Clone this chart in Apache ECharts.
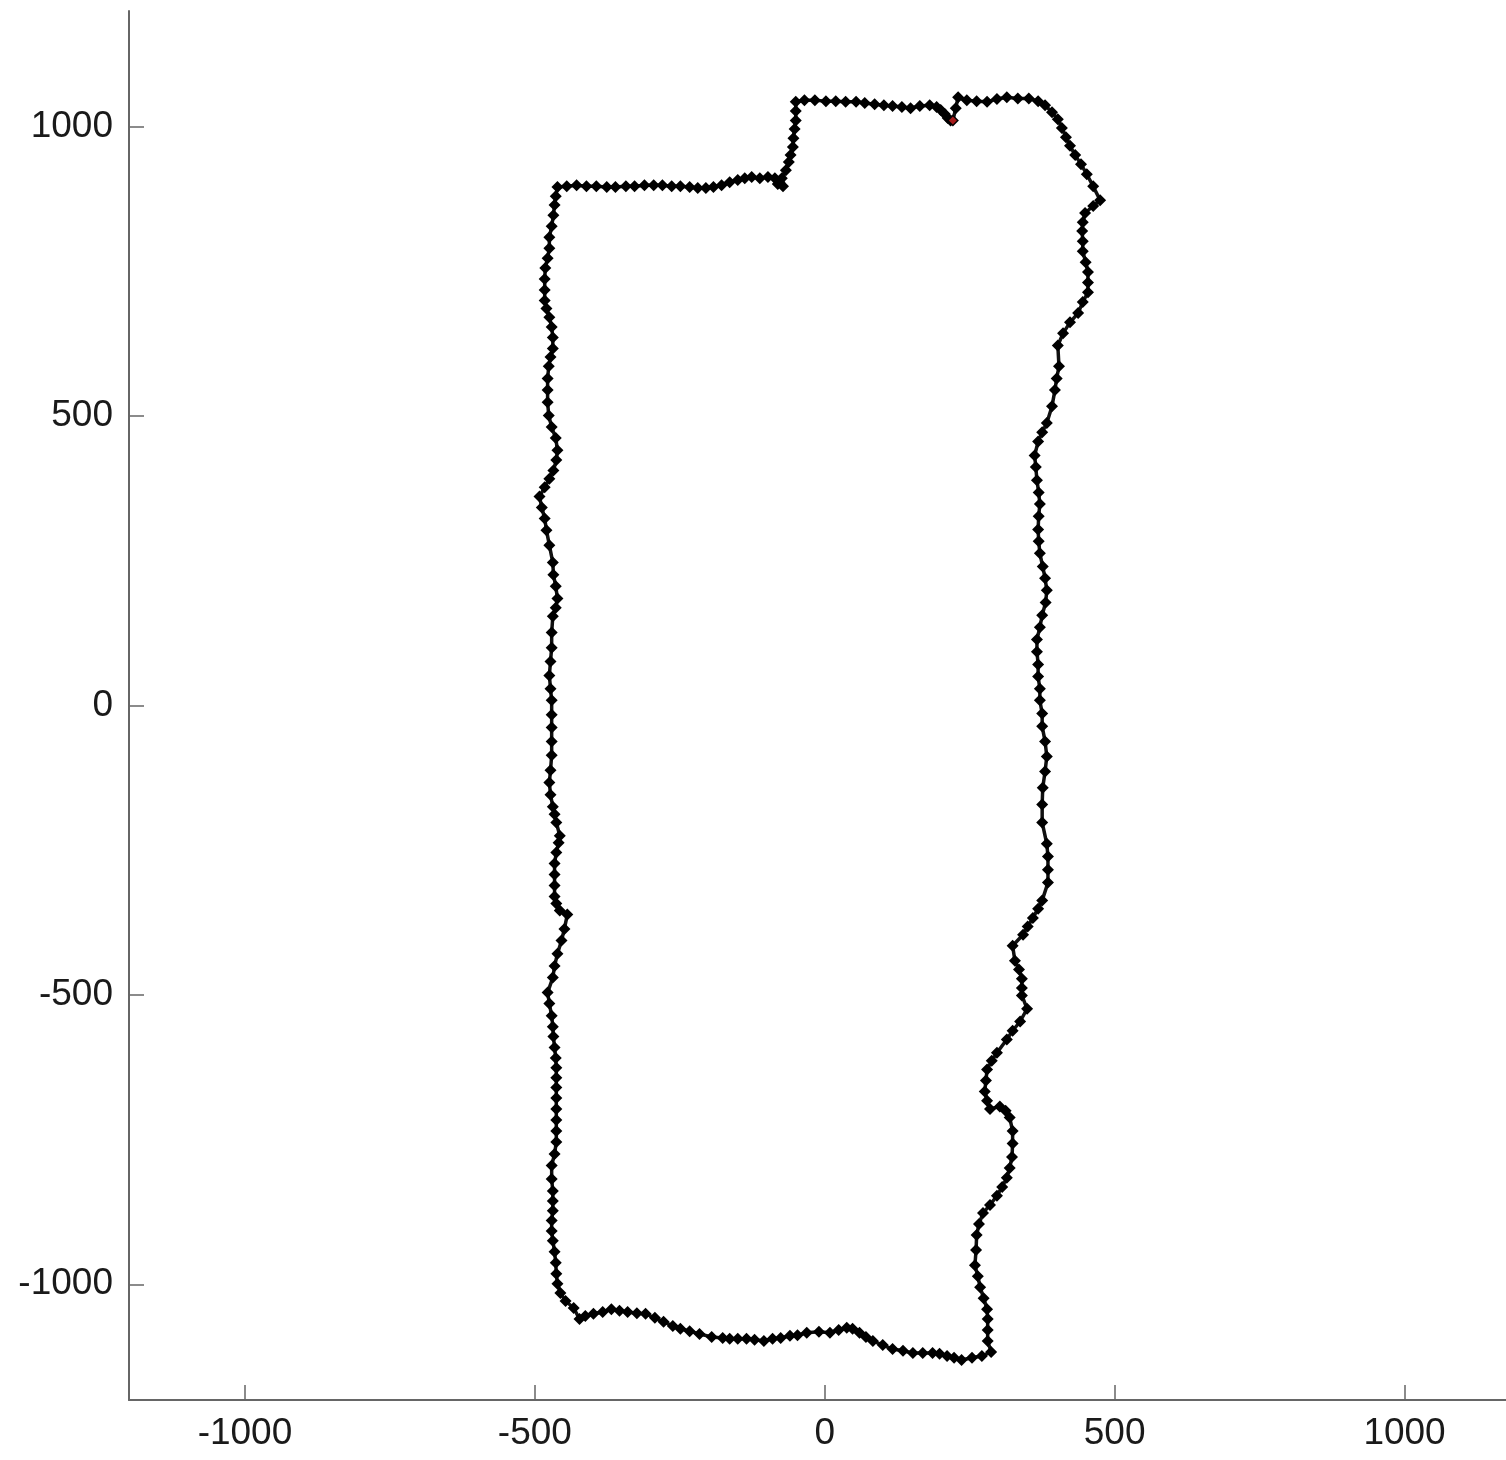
<!DOCTYPE html>
<html>
<head>
<meta charset="utf-8">
<script src="https://cdn.jsdelivr.net/npm/echarts@6/dist/echarts.min.js"></script>
<style>
html,body{margin:0;padding:0;background:#fff;}
#chart{width:1506px;height:1460px;}
</style>
</head>
<body>
<div id="chart"></div>
<script>
// Tick labels
const xTicks = [-1000, -500, 0, 500, 1000];
const yTicks = [-1000, -500, 0, 500, 1000];

// Trajectory (x, y), starting at the red start point
const xs = [221,226,230,245,262,280,297,314,333,352,368,380,392,402,409,416,423,432,442,452,463,475,463,449,445,444,445,445,450,454,454,454,445,437,423,411,402,404,400,397,392,383,375,368,362,364,366,369,371,369,368,369,371,376,380,383,381,375,371,366,366,368,368,371,371,375,375,380,383,380,376,375,375,383,385,385,385,375,368,359,350,342,324,328,335,340,340,340,349,337,324,314,297,288,280,278,276,280,285,302,312,319,324,324,323,319,314,306,297,285,273,266,262,261,259,264,268,274,280,281,281,281,287,271,254,236,223,211,198,186,169,152,135,117,100,83,71,60,48,38,24,9,-10,-31,-47,-60,-76,-90,-105,-121,-135,-150,-164,-176,-195,-216,-233,-249,-262,-278,-293,-309,-324,-340,-354,-368,-383,-399,-413,-423,-433,-447,-456,-461,-463,-464,-466,-469,-471,-471,-469,-469,-469,-471,-471,-466,-463,-463,-463,-463,-463,-463,-463,-463,-464,-466,-468,-469,-471,-475,-478,-469,-466,-461,-454,-449,-444,-457,-463,-466,-466,-466,-466,-463,-459,-457,-463,-466,-469,-473,-475,-473,-471,-471,-471,-471,-471,-473,-475,-473,-471,-471,-469,-464,-461,-464,-468,-469,-475,-480,-483,-488,-492,-483,-475,-468,-463,-461,-464,-471,-476,-478,-478,-478,-476,-473,-469,-469,-471,-475,-480,-483,-483,-483,-482,-478,-475,-475,-471,-468,-466,-464,-461,-445,-428,-411,-394,-376,-361,-343,-328,-311,-295,-280,-264,-249,-233,-219,-205,-192,-178,-164,-150,-138,-126,-112,-98,-86,-78,-72,-81,-74,-67,-62,-59,-55,-54,-52,-50,-50,-50,-35,-17,2,19,36,54,69,86,102,117,133,148,164,181,193,200,207,212,217];
const ys = [1011,1032,1051,1046,1044,1043,1048,1051,1049,1049,1044,1037,1025,1013,998,982,967,951,935,918,897,873,863,851,835,820,802,785,766,749,731,714,697,678,662,643,622,586,565,545,517,488,472,456,432,412,389,368,348,327,304,284,263,240,220,199,178,156,135,114,93,71,50,29,9,-14,-36,-62,-88,-114,-142,-171,-202,-239,-261,-284,-306,-337,-351,-367,-382,-396,-415,-441,-456,-472,-488,-501,-524,-546,-562,-577,-600,-614,-629,-648,-667,-683,-697,-693,-700,-712,-735,-757,-780,-799,-816,-832,-847,-863,-877,-896,-915,-941,-967,-986,-1005,-1024,-1043,-1060,-1079,-1098,-1117,-1124,-1127,-1131,-1127,-1124,-1120,-1119,-1119,-1119,-1115,-1112,-1105,-1098,-1091,-1084,-1077,-1075,-1079,-1084,-1082,-1084,-1088,-1089,-1093,-1094,-1098,-1096,-1094,-1094,-1094,-1093,-1091,-1086,-1081,-1077,-1072,-1065,-1058,-1051,-1050,-1048,-1046,-1043,-1048,-1051,-1055,-1060,-1041,-1029,-1015,-999,-982,-963,-944,-925,-908,-890,-873,-856,-839,-818,-795,-775,-754,-735,-716,-697,-678,-660,-643,-626,-609,-591,-572,-555,-536,-515,-496,-470,-450,-429,-406,-386,-361,-354,-342,-330,-311,-292,-273,-254,-237,-225,-202,-188,-175,-154,-133,-112,-86,-62,-38,-16,9,29,52,76,100,126,154,169,185,206,226,247,277,303,323,342,361,377,392,406,424,441,462,481,501,524,545,565,586,602,617,636,654,671,686,700,718,737,756,773,790,809,828,847,865,880,896,897,899,897,897,896,896,897,897,899,899,899,897,897,896,894,894,896,899,904,908,911,913,911,913,911,904,897,901,911,925,939,951,965,980,996,1011,1027,1043,1046,1046,1044,1044,1043,1043,1041,1039,1037,1036,1034,1032,1036,1037,1034,1029,1022,1015,1011];

const pathData = xs.map((x, i) => [x, ys[i]]);
const startPoint = [[xs[0], ys[0]]];

const axisColor = '#666666';
const labelStyle = {color: '#1a1a1a', fontSize: 37, fontFamily: 'Liberation Sans, Arial, sans-serif'};
const plainNumber = (v) => String(v);

const chart = echarts.init(document.getElementById('chart'), null, {renderer: 'canvas'});
chart.setOption({
  animation: false,
  backgroundColor: '#ffffff',
  grid: {left: 129, right: 0, top: 11, bottom: 60, containLabel: false},
  xAxis: {
    type: 'value', min: -1200, max: 1175,
    axisLine: {show: true, onZero: false, lineStyle: {color: axisColor, width: 2}},
    axisTick: {show: true, inside: true, length: 15, customValues: xTicks, lineStyle: {color: axisColor, width: 1.5}},
    axisLabel: Object.assign({show: true, margin: 15, customValues: xTicks, formatter: plainNumber}, labelStyle),
    splitLine: {show: false}
  },
  yAxis: {
    type: 'value', min: -1200, max: 1200,
    axisLine: {show: true, onZero: false, lineStyle: {color: axisColor, width: 2}},
    axisTick: {show: true, inside: true, length: 15, customValues: yTicks, lineStyle: {color: axisColor, width: 1.5}},
    axisLabel: Object.assign({show: true, margin: 16, customValues: yTicks, formatter: plainNumber}, labelStyle),
    splitLine: {show: false}
  },
  series: [
    {
      type: 'line',
      data: pathData,
      showSymbol: true,
      symbol: 'diamond',
      symbolSize: 12,
      itemStyle: {color: '#000000'},
      lineStyle: {color: '#111111', width: 3.5},
      silent: true
    },
    {
      type: 'scatter',
      data: startPoint,
      symbol: 'diamond',
      symbolSize: 8,
      itemStyle: {color: '#d02020'},
      silent: true,
      z: 5
    }
  ]
});
</script>
</body>
</html>
